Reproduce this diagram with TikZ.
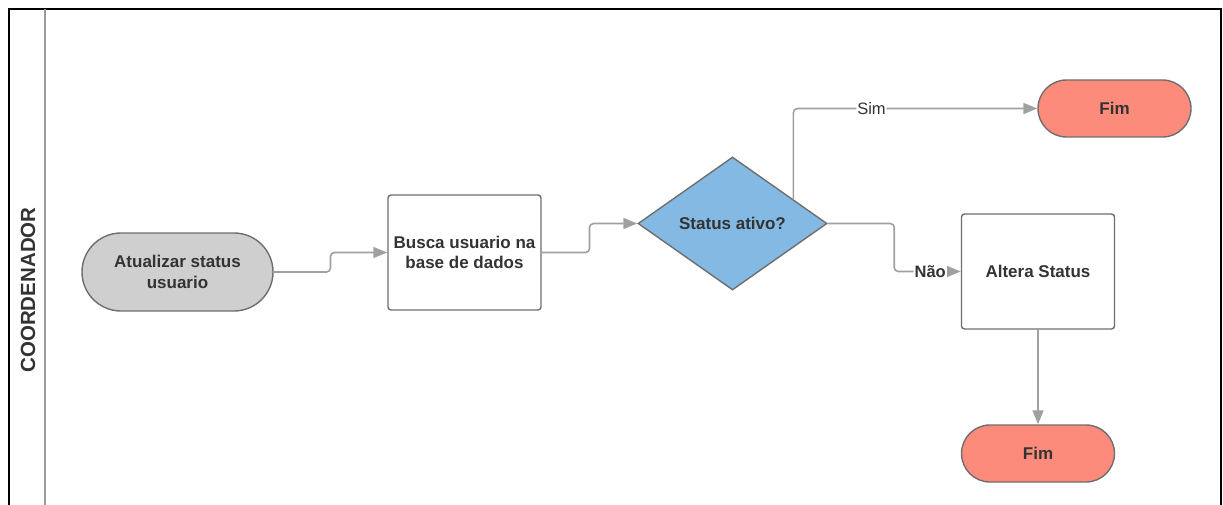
\documentclass[tikz,border=0pt]{standalone}
\usepackage{fontspec}
\setmainfont{Liberation Sans}
\usetikzlibrary{shapes.geometric,arrows.meta,calc}

\definecolor{txt}{HTML}{333333}
\definecolor{edge}{HTML}{6E6E6E}
\definecolor{wire}{HTML}{A0A0A0}
\definecolor{startfill}{HTML}{CFCFCF}
\definecolor{decfill}{HTML}{83B9E3}
\definecolor{endfill}{HTML}{FD8B7B}
\definecolor{lane}{HTML}{9A9A9A}

\tikzset{
  base/.style={draw=edge, line width=1.4pt, inner sep=0pt, align=center,
    text=txt, font=\fontsize{17}{20.5}\selectfont\bfseries},
  pill/.style={base, rectangle, rounded corners=#1},
  task/.style={base, rectangle, rounded corners=3pt, fill=white,
    minimum width=153pt, minimum height=115pt},
  decision/.style={base, diamond, fill=decfill,
    minimum width=189pt, minimum height=133pt},
  conn/.style={draw=wire, line width=1.6pt, rounded corners=4pt,
    -{Triangle[length=14pt,width=11pt]}},
  lbl/.style={fill=white, inner sep=1pt, text=txt,
    font=\fontsize{16.5}{19}\selectfont},
}

\begin{document}
\begin{tikzpicture}[x=1pt,y=-1pt]
  \useasboundingbox (0,0) rectangle (1223,505);

  % pool frame and lane divider
  \draw[black, line width=2.2pt] (9,505) -- (9,9) -- (1221,9) -- (1221,505);
  \draw[lane, line width=1.5pt] (45,9) -- (45,505);
  \node[rotate=90, text=txt, font=\fontsize{20.5}{24}\selectfont\bfseries]
    (lanetitle) at (28,290) {COORDENADOR};

  % flow nodes
  \node[pill=39pt, fill=startfill, minimum width=191pt, minimum height=78pt]
    (start) at (177.5,272) {Atualizar status\\usuario};
  \node[task] (busca) at (464.5,252.5) {Busca usuario na\\base de dados};
  \node[decision] (dec) at (732.5,223.5) {Status ativo?};
  \node[pill=28.5pt, fill=endfill, minimum width=153pt, minimum height=57pt]
    (fimA) at (1114.5,108.5) {Fim};
  \node[task] (altera) at (1038,271.5) {Altera Status};
  \node[pill=28.5pt, fill=endfill, minimum width=153pt, minimum height=57pt]
    (fimB) at (1038,453.5) {Fim};

  % connectors
  \draw[conn] (start.east) -| ($(start.east)!.5!(busca.west)$) |- (busca.west);
  \draw[conn] (busca.east) -| ($(busca.east)!.5!(dec.west)$) |- (dec.west);
  \coordinate (simstart) at ($(dec.north)!0.64!(dec.east)$);
  \draw[conn] (simstart) |- node[lbl, pos=0.66] {Sim} (fimA.west);
  \coordinate (naomid) at ($(dec.east)!.5!(altera.west)$);
  \draw[conn] (dec.east) -| (naomid) |- node[lbl, pos=0.77, font=\fontsize{16.5}{19}\selectfont\bfseries] {Não} (altera.west);
  \draw[conn] (altera.south) -- (fimB.north);
\end{tikzpicture}
\end{document}
